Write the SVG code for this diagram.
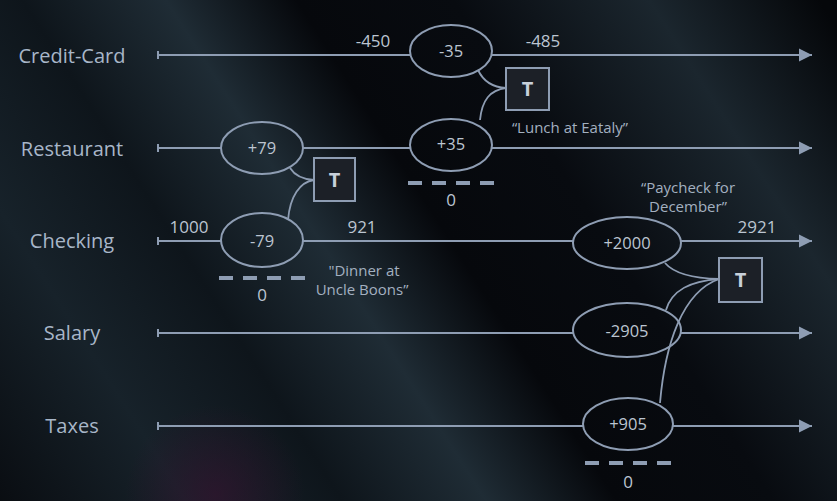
<svg xmlns="http://www.w3.org/2000/svg" width="837" height="501" viewBox="0 0 837 501">
<defs>
<linearGradient id="bg" gradientUnits="userSpaceOnUse" x1="-253" y1="162" x2="674" y2="-431">
<stop offset="0" stop-color="#07090d"/>
<stop offset="0.17" stop-color="#17222a"/>
<stop offset="0.29" stop-color="#0e151b"/>
<stop offset="0.40" stop-color="#1f2c35"/>
<stop offset="0.50" stop-color="#06080c"/>
<stop offset="0.62" stop-color="#080b10"/>
<stop offset="0.77" stop-color="#1b262e"/>
<stop offset="0.90" stop-color="#05070a"/>
<stop offset="1" stop-color="#05070a"/>
</linearGradient>
<radialGradient id="pink" cx="215" cy="495" r="90" gradientUnits="userSpaceOnUse">
<stop offset="0" stop-color="#3a1030" stop-opacity="0.55"/>
<stop offset="1" stop-color="#3a1030" stop-opacity="0"/>
</radialGradient>
<marker id="arr" markerWidth="14" markerHeight="14" refX="13" refY="7" orient="auto" markerUnits="userSpaceOnUse">
<path d="M0,0.5 L13,7 L0,13.5 Z" fill="#8e9db3"/>
</marker>
<style>
.ln{stroke:#8e9db3;stroke-width:2;fill:none}
.ar{stroke:#8e9db3;stroke-width:2;fill:none;marker-end:url(#arr)}
.el{stroke:#8e9db3;stroke-width:2;fill:none}
.cn{stroke:#8e9db3;stroke-width:1.8;fill:none}
.ds{stroke:#8e9db3;stroke-width:4;stroke-dasharray:14 10;fill:none}
.tb{stroke:#8e9db3;stroke-width:2;fill:#1c2027}
.lab{font-family:"Open Sans","DejaVu Sans",sans-serif;font-size:20px;fill:#a8b6c8;text-anchor:middle}
.num{font-family:"Open Sans","DejaVu Sans",sans-serif;font-size:16.5px;fill:#bcc5d1;text-anchor:middle}
.bal{font-family:"Open Sans","DejaVu Sans",sans-serif;font-size:17px;fill:#bcc5d1;text-anchor:middle}
.q{font-family:"Open Sans","DejaVu Sans",sans-serif;font-size:15px;fill:#a3b0c0;text-anchor:middle}
.tt{font-family:"Open Sans","DejaVu Sans",sans-serif;font-size:20px;font-weight:bold;fill:#c8d0da;text-anchor:middle}
</style>
</defs>
<rect x="0" y="0" width="837" height="501" fill="url(#bg)"/>
<rect x="0" y="0" width="837" height="501" fill="url(#pink)"/>

<g id="labels">
<text class="lab" x="72" y="63">Credit-Card</text>
<text class="lab" x="72" y="156">Restaurant</text>
<text class="lab" x="72" y="248">Checking</text>
<text class="lab" x="72" y="340">Salary</text>
<text class="lab" x="72" y="433">Taxes</text>
</g>

<g id="connectors">
<path class="ln" d="M158,51 V59 M158,144 V152 M158,237 V245 M158,329 V337 M158,422 V430"/>
<path class="ln" d="M158,55 H411"/>
<path class="ar" d="M491,55 H812"/>
<path class="ln" d="M158,148 H221 M303,148 H411"/>
<path class="ar" d="M491,148 H812"/>
<path class="ln" d="M158,241 H221 M303,241 H573"/>
<path class="ar" d="M681,241 H812"/>
<path class="ln" d="M158,333 H573"/>
<path class="ar" d="M681,333 H812"/>
<path class="ln" d="M158,426 H583"/>
<path class="ar" d="M673,426 H812"/>
<path class="cn" d="M478,70 Q486,87 506,88"/>
<path class="cn" d="M480,120 C482,100 490,90 506,88"/>
<path class="cn" d="M290,168 Q297,179 314,180"/>
<path class="cn" d="M288,220 C290,196 300,182 314,180"/>
<path class="cn" d="M665,263 Q678,278 719,279"/>
<path class="cn" d="M666,310 C672,290 690,281 719,279"/>
<path class="cn" d="M660,403 C665,345 682,292 719,279"/>
<path class="ds" d="M408,183 H494"/>
<path class="ds" d="M219,278 H305"/>
<path class="ds" d="M585,463 H672"/>
</g>

<g id="tx-35"><ellipse class="el" cx="451" cy="51" rx="41" ry="26"/><text class="num" x="451" y="57">-35</text></g>
<g id="tx+35"><ellipse class="el" cx="451" cy="145" rx="41" ry="26"/><text class="num" x="451" y="150">+35</text></g>
<g id="tx+79"><ellipse class="el" cx="262" cy="148" rx="41" ry="26"/><text class="num" x="262" y="154">+79</text></g>
<g id="tx-79"><ellipse class="el" cx="262" cy="240" rx="41" ry="27"/><text class="num" x="262" y="247">-79</text></g>
<g id="tx+2000"><ellipse class="el" cx="627" cy="243" rx="54" ry="26"/><text class="num" x="627" y="249">+2000</text></g>
<g id="tx-2905"><ellipse class="el" cx="627" cy="330" rx="54" ry="27"/><text class="num" x="627" y="337">-2905</text></g>
<g id="tx+905"><ellipse class="el" cx="628" cy="424" rx="45" ry="26"/><text class="num" x="628" y="430">+905</text></g>

<g id="t-eataly"><rect class="tb" x="506" y="68" width="43" height="42"/><text class="tt" x="527.5" y="96">T</text></g>
<g id="t-boons"><rect class="tb" x="314" y="158" width="41" height="43"/><text class="tt" x="334.5" y="187">T</text></g>
<g id="t-paycheck"><rect class="tb" x="719" y="258" width="43" height="44"/><text class="tt" x="740.5" y="287">T</text></g>

<g id="balances">
<text class="bal" x="373" y="47">-450</text>
<text class="bal" x="543" y="47">-485</text>
<text class="bal" x="189" y="233">1000</text>
<text class="bal" x="362" y="233">921</text>
<text class="bal" x="757" y="233">2921</text>
<text class="bal" x="451" y="206">0</text>
<text class="bal" x="262" y="301">0</text>
<text class="bal" x="628" y="488">0</text>
</g>

<g id="notes">
<text class="q" x="570" y="133">“Lunch at Eataly”</text>
<text class="q" x="688" y="193">“Paycheck for</text>
<text class="q" x="688" y="212">December”</text>
<text class="q" x="364" y="276">"Dinner at</text>
<text class="q" x="362" y="295">Uncle Boons”</text>
</g>
</svg>
